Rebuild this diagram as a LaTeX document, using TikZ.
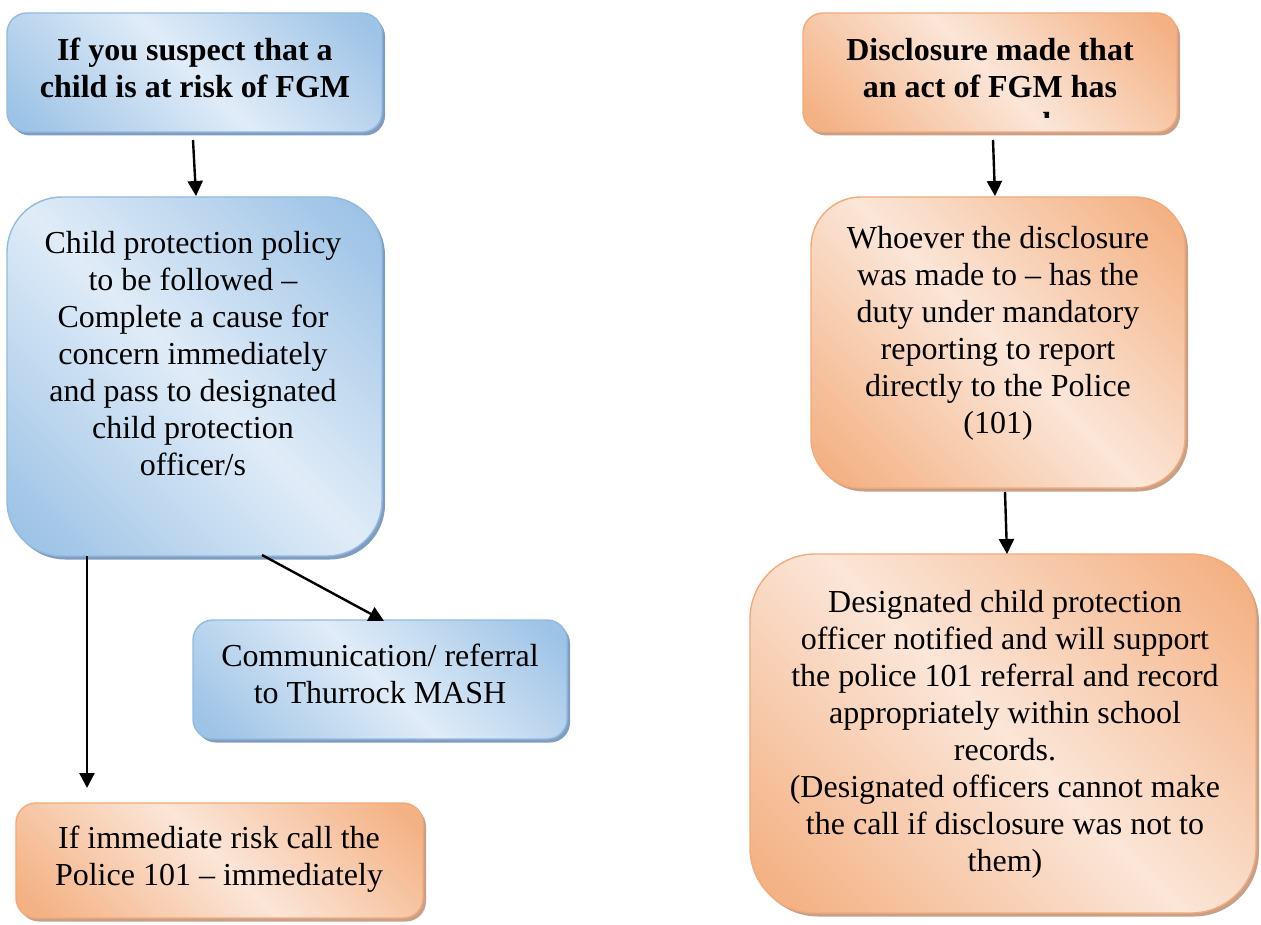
\documentclass[tikz,border=0pt]{standalone}
\usepackage{fontspec}
\setmainfont{Liberation Serif}
\usetikzlibrary{arrows.meta,shadows}
\definecolor{bdark}{RGB}{157,195,230}
\definecolor{blight}{RGB}{224,236,248}
\definecolor{bborder}{RGB}{146,186,226}
\definecolor{bshadow}{RGB}{128,156,190}
\definecolor{odark}{RGB}{244,177,131}
\definecolor{olight}{RGB}{251,230,216}
\definecolor{oborder}{RGB}{243,170,122}
\definecolor{oshadow}{RGB}{200,160,136}
\pgfdeclarehorizontalshading{bshade}{100bp}{color(0bp)=(bdark); color(18bp)=(bdark); color(50bp)=(blight); color(82bp)=(bdark); color(100bp)=(bdark)}
\pgfdeclarehorizontalshading{oshade}{100bp}{color(0bp)=(odark); color(18bp)=(odark); color(50bp)=(olight); color(82bp)=(odark); color(100bp)=(odark)}
\newcommand\mystrut{\rule{0pt}{26pt}}
\begin{document}
\begin{tikzpicture}[x=1pt,y=-1pt,
  box/.style={rectangle, rounded corners=#1, line width=1.4pt, inner sep=0pt, outer sep=0pt, shade, shading angle=45},
  bluebox/.style={box=#1, draw=bborder, shading=bshade, shading angle=45,
    drop shadow={shadow xshift=3pt, shadow yshift=-3.5pt, fill=bshadow, opacity=1}},
  orangebox/.style={box=#1, draw=oborder, shading=oshade, shading angle=45,
    drop shadow={shadow xshift=3pt, shadow yshift=-3.5pt, fill=oshadow, opacity=1}},
  txt/.style={align=center, inner sep=0pt, anchor=north, font=\fontsize{32}{37}\selectfont},
  btxt/.style={align=center, inner sep=0pt, anchor=north, font=\fontsize{32}{37}\selectfont\bfseries},
  arr/.style={line width=2.4pt, draw=black, -{Triangle[length=15pt,width=15pt]}}]
\fill[white] (0,0) rectangle (1261,925);
\useasboundingbox (0,0) rectangle (1261,925);

% left column
\node[bluebox=20pt, minimum width=375pt, minimum height=119pt] (A) at (194.5,72.5) {};
\node[btxt] (tA) at (195,34) {\mystrut If you suspect that a\\child is at risk of FGM};

\node[bluebox=55pt, minimum width=375pt, minimum height=359pt] (B) at (194.5,376.5) {};
\node[txt] (tB) at (193,227) {\mystrut Child protection policy\\to be followed --\\Complete a cause for\\concern immediately\\and pass to designated\\child protection\\officer/s};

\node[bluebox=20pt, minimum width=374pt, minimum height=119pt] (C) at (380,679.5) {};
\node[txt] (tC) at (380,640) {\mystrut Communication/ referral\\to Thurrock MASH};

\node[orangebox=20pt, minimum width=407pt, minimum height=115pt] (D) at (219.5,860.5) {};
\node[txt] (tD) at (219,822) {\mystrut If immediate risk call the\\Police 101 -- immediately};

% right column
\node[orangebox=20pt, minimum width=374pt, minimum height=119pt] (E) at (990,72.5) {};
\begin{scope}
\clip (803,13) rectangle (1177,117.5);
\node[btxt] (tE) at (990,34) {\mystrut Disclosure made that\\an act of FGM has\\occurred};
\end{scope}

\node[orangebox=50pt, minimum width=374pt, minimum height=291pt] (F) at (998,342.5) {};
\node[txt] (tF) at (998,222) {\mystrut Whoever the disclosure\\was made to -- has the\\duty under mandatory\\reporting to report\\directly to the Police\\(101)};

\node[orangebox=65pt, minimum width=506pt, minimum height=359pt] (G) at (1003,733.5) {};
\node[txt] (tG) at (1005,586) {\mystrut Designated child protection\\officer notified and will support\\the police 101 referral and record\\appropriately within school\\records.\\(Designated officers cannot make\\the call if disclosure was not to\\them)};

% connectors
\coordinate (ab1) at (193,140);
\coordinate (ab2) at (196,196);
\draw[arr] (ab1) -- (ab2);
\coordinate (bd1) at (87,556);
\coordinate (bd2) at (87,788);
\draw[arr] (bd1) -- (bd2);
\coordinate (bc1) at (262,555);
\coordinate (bc2) at (384,621);
\draw[arr] (bc1) -- (bc2);
\coordinate (ef1) at (993,140);
\coordinate (ef2) at (995,196);
\draw[arr] (ef1) -- (ef2);
\coordinate (fg1) at (1005,492);
\coordinate (fg2) at (1007,554);
\draw[arr] (fg1) -- (fg2);
\end{tikzpicture}
\end{document}
